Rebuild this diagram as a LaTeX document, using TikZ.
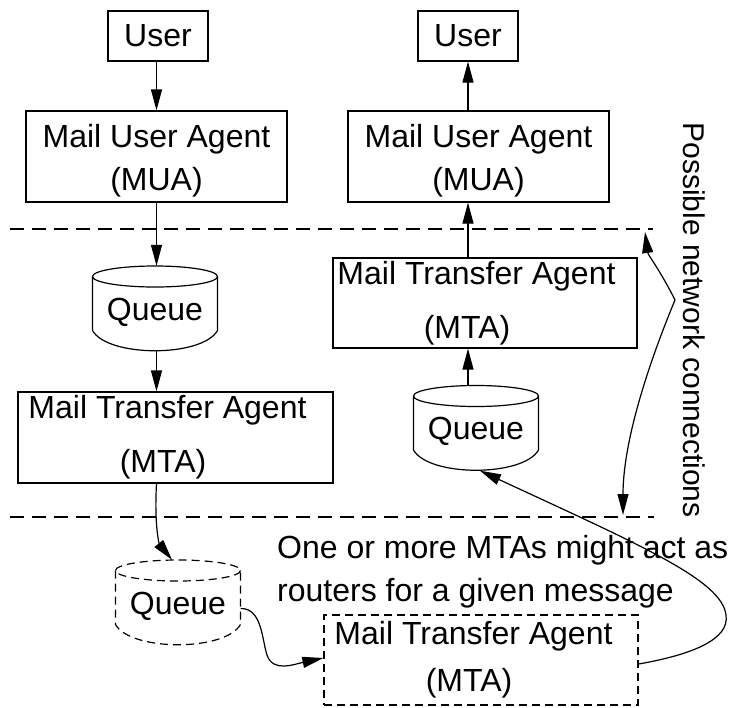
\documentclass[tikz,border=0pt]{standalone}
\usepackage{fontspec}
\setmainfont{Liberation Sans}
\usetikzlibrary{arrows.meta}
\tikzstyle{block} = [rectangle, draw, line width=1.2pt, align=center]
\tikzstyle{thindash} = [dash pattern=on 8pt off 5pt]
\tikzstyle{queue} = [minimum width=125pt, minimum height=85pt, text height=23pt, text depth=0pt]
\tikzstyle{arrow} = [line width=1.2pt, -{Triangle[length=21pt,width=11pt]}]
\tikzstyle{twoway} = [line width=1.2pt, {Triangle[length=21pt,width=11pt]}-{Triangle[length=21pt,width=11pt]}]
\tikzstyle{netline} = [line width=2pt, dash pattern=on 14pt off 8pt]
% outline of a queue drawn round its node
\newcommand{\queueshape}[2][]{%
  \draw [line width=1.2pt, #1, shift={(#2.center)}] (0,-32) ellipse [x radius=62.5, y radius=10.5]
    (-62.5,-32) -- (-62.5,22) .. controls (-47,49) and (47,49) .. (62.5,22) -- (62.5,-32);}

\begin{document}
\begin{tikzpicture}[x=1pt, y=-1pt, inner sep=0pt, font=\fontsize{32}{43}\selectfont]
		\useasboundingbox (0,0) rectangle (733,707);

		% draw the sending side first
		\node [block, minimum width=100pt, minimum height=50pt] (userl) at (158,36) {User};
		\node [block, minimum width=261pt, minimum height=91pt] (mual) at (156.5,156.5) {\rule{0pt}{31pt}Mail User Agent\\(MUA)};
		\node [queue] (queuel) at (155,308.5) {Queue};
		\node [block, minimum width=315pt, minimum height=91pt] (mtal) at (175.5,437.5) {Mail Transfer Agent\hspace*{16pt}\\[11pt](MTA)\hspace*{25pt}};

		% then the receiving side
		\node [block, minimum width=100pt, minimum height=50pt] (userr) at (468,36) {User};
		\node [block, minimum width=261pt, minimum height=91pt] (muar) at (478.5,156.5) {\rule{0pt}{31pt}Mail User Agent\\(MUA)};
		\node [block, minimum width=304pt, minimum height=90pt] (mtar) at (485,303) {Mail Transfer Agent\hspace*{17pt}\\[11pt](MTA)\hspace*{36pt}};
		\node [queue] (queuer) at (476,428) {Queue};

		% the router in between
		\node [queue] (queued) at (178,602.5) {Queue};
		\node [block, thindash, minimum width=314pt, minimum height=90pt] (mtad) at (481,660) {Mail Transfer Agent\hspace*{15pt}\\[4pt](MTA)\hspace*{24pt}};

		\queueshape{queuel}
		\queueshape{queuer}
		\queueshape[thindash]{queued}

		% the notes
		\node [anchor=west, align=left] (routernote) at (277,571.5) {One or more MTAs might act as\\routers for a given message};
		\node [rotate=-90, font=\fontsize{30}{36}\selectfont] (netlabel) at (694,320) {Possible network connections};

		% network boundaries
		\draw [netline] (10,229) -- (653,229);
		\draw [netline] (10,517) -- (654,517);

		% draw the edges connecting the boxes
		\draw [arrow] (userl.south -| mual) -- (mual.north);
		\draw [arrow] (mual.south) -- (queuel.north -| mual);
		\draw [arrow] (queuel.south -| mual) -- (mtal.north -| mual);
		\draw [arrow] (mtal.south -| mual) .. controls (154,530) and (160,545) .. ([xshift=-6pt]queued.north);
		\draw [arrow] ([yshift=-6pt]queued.east) .. controls (262,608) and (262,640) .. (267,655)
			.. controls (273,673) and (295,664) .. ([yshift=2pt]mtad.west);
		\draw [arrow] ([yshift=-4pt]mtad.east) .. controls (690,655) and (730,640) .. (726,615)
			.. controls (722,580) and (640,545) .. ([xshift=4pt]queuer.south);
		\draw [arrow] (queuer.north -| userr) -- (mtar.south -| userr);
		\draw [arrow] (mtar.north -| userr) -- (muar.south -| userr);
		\draw [arrow] (muar.north -| userr) -- (userr.south);

		% the brace for the network connections
		\coordinate (nettop) at (645,232);
		\coordinate (netmid) at (675,300);
		\coordinate (netbot) at (623,515);
		\draw [twoway] (nettop) .. controls (648,255) and (660,270) .. (netmid)
			.. controls (650,360) and (623,440) .. (netbot);
	\end{tikzpicture}
\end{document}
